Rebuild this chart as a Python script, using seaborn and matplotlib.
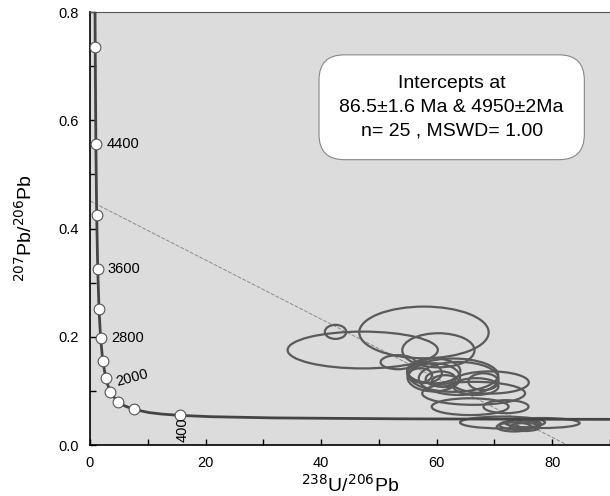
import matplotlib
matplotlib.use("Agg")
import matplotlib.pyplot as plt
from matplotlib.patches import Ellipse
import seaborn as sns
import pandas as pd

# ==============================
# DONNÉES
# ==============================
# courbe concordia (Tera-Wasserburg)
concordia_x = [0.87, 0.905, 1.02, 1.16, 1.34, 1.56, 1.84, 2.22, 2.75, 3.105, 3.55, 4.12,
               4.89, 5.96, 7.57, 10.25, 12.4, 15.62, 21.0, 31.7, 53.2, 74.0, 91.6]
concordia_y = [0.816, 0.735, 0.557, 0.425, 0.326, 0.252, 0.197, 0.155, 0.123, 0.110, 0.0987, 0.0888,
               0.0801, 0.0725, 0.0658, 0.0599, 0.0572, 0.0547, 0.0523, 0.0501, 0.0484, 0.0477, 0.0474]

# points d'âge (tous les 400 Ma)
age_x = [15.62, 7.57, 4.89, 3.55, 2.75, 2.22, 1.84, 1.56, 1.34, 1.16, 1.02, 0.905]
age_y = [0.0547, 0.0658, 0.0801, 0.0987, 0.123, 0.155, 0.197, 0.252, 0.326, 0.425, 0.557, 0.735]

# étiquettes d'âge
label_text = ["4400", "3600", "2800", "2000", "400"]
label_x = [2.8, 3.1, 3.6, 4.3, 16.0]
label_y = [0.557, 0.326, 0.198, 0.124, 0.028]
label_rot = [0, 0, 0, 15, 90]

# droite discordia
discordia_x = [0.0, 82.6]
discordia_y = [0.451, 0.0]

# ellipses d'erreur : centre x, centre y, largeur, hauteur
ell_x = [42.5, 47.2, 57.8, 60.3, 53.3, 59.5, 62.9, 59.5, 63.8, 69.3, 66.8, 66.4, 65.8,
         72.0, 60.7, 57.2, 61.5, 57.9, 68.1, 71.4, 78.3, 74.3, 75.3, 73.4, 75.9]
ell_y = [0.209, 0.1755, 0.208, 0.175, 0.153, 0.137, 0.129, 0.125, 0.123, 0.1155, 0.108, 0.0955, 0.0708,
         0.0708, 0.122, 0.129, 0.118, 0.133, 0.117, 0.0416, 0.0406, 0.037, 0.0333, 0.0333, 0.0388]
ell_w = [3.7, 26.0, 22.4, 12.5, 6.0, 9.2, 15.5, 9.1, 13.8, 13.3, 7.8, 17.8, 13.3,
         7.8, 5.2, 4.0, 4.6, 6.0, 5.2, 14.7, 12.9, 6.9, 5.2, 6.0, 4.3]
ell_h = [0.026, 0.068, 0.0955, 0.063, 0.026, 0.046, 0.0615, 0.052, 0.061, 0.041, 0.031, 0.0425, 0.031,
         0.024, 0.028, 0.026, 0.022, 0.037, 0.031, 0.022, 0.0185, 0.0166, 0.0148, 0.0166, 0.0148]

intercept_text = "Intercepts at\n86.5±1.6 Ma & 4950±2Ma\nn= 25 , MSWD= 1.00"

# ==============================
# STYLE
# ==============================
sns.set_style("ticks", {"axes.facecolor": "#dcdcdc", "text.color": "black",
                        "xtick.color": "black", "ytick.color": "black",
                        "axes.labelcolor": "black"})
plt.rcParams["font.family"] = ["Liberation Sans", "DejaVu Sans"]

fig = plt.figure(figsize=(6.1, 4.96), dpi=100)
ax = fig.add_axes([0.1475, 0.1028, 0.8525, 0.873])

# ellipses
for cx, cy, w, h in zip(ell_x, ell_y, ell_w, ell_h):
    ax.add_patch(Ellipse((cx, cy), w, h, fill=False, edgecolor="#5a5a5a", linewidth=1.6, zorder=3))

# discordia
ax.plot(discordia_x, discordia_y, color="#8c8c8c", linewidth=0.7, linestyle=(0, (4, 1.5)), zorder=2)

# concordia
conc = pd.DataFrame({"x": concordia_x, "y": concordia_y})
sns.lineplot(data=conc, x="x", y="y", sort=False, color="#444444", linewidth=2, ax=ax, zorder=4)

ages = pd.DataFrame({"x": age_x, "y": age_y})
sns.scatterplot(data=ages, x="x", y="y", s=60, color="white", edgecolor="#555555",
                linewidth=0.8, ax=ax, zorder=5)

for t, x, y, r in zip(label_text, label_x, label_y, label_rot):
    ax.text(x, y, t, rotation=r, fontsize=10.5, ha="left" if r != 90 else "center",
            va="center", color="black", zorder=6)

# boîte des intercepts
ax.text(62.6, 0.624, intercept_text, ha="center", va="center", fontsize=14,
        linespacing=1.5, color="black", zorder=7,
        bbox=dict(boxstyle="round,pad=1.05,rounding_size=1.3", facecolor="white",
                  edgecolor="#888888", linewidth=0.8))

# axes
ax.set_xlim(0, 90)
ax.set_ylim(0, 0.8)
ax.set_xticks([0, 20, 40, 60, 80])
ax.set_xticks(range(0, 91, 10), minor=True)
ax.set_yticks([0.0, 0.2, 0.4, 0.6, 0.8])
ax.set_yticks([i / 10 for i in range(9)], minor=True)
ax.yaxis.set_major_formatter(plt.FormatStrFormatter("%.1f"))
ax.tick_params(which="both", direction="in", length=4, width=1, labelsize=10.5, pad=8)
ax.spines["right"].set_visible(False)
ax.spines["top"].set_color("#555555")
ax.spines["top"].set_linewidth(0.8)
for s in ["left", "bottom"]:
    ax.spines[s].set_color("black")
    ax.spines[s].set_linewidth(1.2)

ax.set_xlabel("$^{238}$U/$^{206}$Pb", fontsize=14, labelpad=3)
ax.set_ylabel("$^{207}$Pb/$^{206}$Pb", fontsize=14, labelpad=16)

fig.savefig("out.png", dpi=100)
